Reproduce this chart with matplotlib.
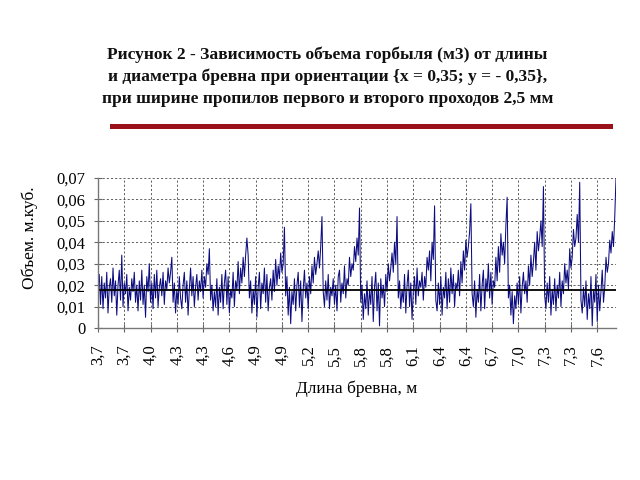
import matplotlib
matplotlib.use("Agg")
import matplotlib.pyplot as plt
from matplotlib.lines import Line2D

plt.rcParams['font.family'] = ['Liberation Serif', 'DejaVu Serif']

# объем горбыля по точкам: 14 блоков по длине бревна, внутри блока растет диаметр
volume = [
    # 3,7
    0.018, 0.025, 0.011, 0.024, 0.009, 0.021, 0.014, 0.026, 0.007, 0.019,
    0.023, 0.012, 0.028, 0.015, 0.022, 0.006, 0.020, 0.027, 0.013, 0.034,
    0.010, 0.021, 0.016, 0.025, 0.008, 0.019, 0.013, 0.023, 0.017, 0.026,
    # 4,0
    0.012, 0.020, 0.008, 0.022, 0.013, 0.027, 0.011, 0.020, 0.005, 0.024,
    0.017, 0.030, 0.012, 0.021, 0.009, 0.025, 0.014, 0.027, 0.010, 0.019,
    0.023, 0.015, 0.026, 0.011, 0.022, 0.018, 0.028, 0.021, 0.026, 0.033,
    # 4,3
    0.012, 0.021, 0.007, 0.018, 0.011, 0.024, 0.014, 0.009, 0.020, 0.026,
    0.012, 0.022, 0.006, 0.018, 0.028, 0.015, 0.024, 0.010, 0.019, 0.025,
    0.013, 0.022, 0.017, 0.027, 0.014, 0.024, 0.019, 0.030, 0.025, 0.037,
    # 4,6
    0.013, 0.020, 0.008, 0.017, 0.010, 0.023, 0.006, 0.019, 0.012, 0.025,
    0.009, 0.021, 0.027, 0.011, 0.024, 0.007, 0.018, 0.014, 0.026, 0.010,
    0.022, 0.018, 0.031, 0.016, 0.028, 0.021, 0.033, 0.024, 0.034, 0.042,
    # 4,9
    0.034, 0.014, 0.022, 0.007, 0.018, 0.011, 0.024, 0.005, 0.019, 0.026,
    0.009, 0.021, 0.016, 0.028, 0.012, 0.025, 0.008, 0.019, 0.023, 0.013,
    0.027, 0.017, 0.032, 0.020, 0.029, 0.023, 0.035, 0.026, 0.030, 0.047,
    # 5,2
    0.015, 0.024, 0.006, 0.019, 0.002, 0.017, 0.011, 0.023, 0.008, 0.020,
    0.026, 0.010, 0.022, 0.003, 0.018, 0.027, 0.014, 0.021, 0.009, 0.024,
    0.016, 0.029, 0.021, 0.033, 0.025, 0.030, 0.036, 0.028, 0.038, 0.052,
    # 5,5
    0.017, 0.010, 0.022, 0.013, 0.025, 0.009, 0.019, 0.015, 0.023, 0.011,
    0.020, 0.008, 0.024, 0.027, 0.012, 0.021, 0.016, 0.029, 0.014, 0.023,
    0.020, 0.033, 0.024, 0.030, 0.027, 0.038, 0.031, 0.042, 0.034, 0.056,
    # 5,8
    0.012, 0.020, 0.004, 0.016, 0.009, 0.022, 0.006, 0.018, 0.011, 0.024,
    0.003, 0.019, 0.026, 0.008, 0.021, 0.001, 0.023, 0.014, 0.020, 0.010,
    0.025, 0.017, 0.030, 0.022, 0.028, 0.035, 0.026, 0.040, 0.030, 0.052,
    # 6,1
    0.014, 0.022, 0.009, 0.018, 0.012, 0.025, 0.007, 0.020, 0.027, 0.010,
    0.021, 0.004, 0.017, 0.024, 0.011, 0.028, 0.015, 0.022, 0.019, 0.026,
    0.013, 0.024, 0.019, 0.033, 0.027, 0.036, 0.022, 0.040, 0.032, 0.057,
    # 6,4
    0.013, 0.008, 0.021, 0.011, 0.024, 0.006, 0.019, 0.014, 0.026, 0.009,
    0.023, 0.012, 0.028, 0.016, 0.025, 0.010, 0.021, 0.018, 0.027, 0.015,
    0.031, 0.021, 0.036, 0.027, 0.041, 0.033, 0.038, 0.045, 0.058,
    # 6,7
    0.016, 0.010, 0.022, 0.005, 0.018, 0.012, 0.025, 0.008, 0.020, 0.027,
    0.009, 0.023, 0.017, 0.030, 0.014, 0.026, 0.011, 0.022, 0.019, 0.033,
    0.022, 0.038, 0.026, 0.044, 0.034, 0.040, 0.030, 0.048, 0.061,
    # 7,0
    0.014, 0.020, 0.006, 0.017, 0.002, 0.015, 0.009, 0.021, 0.011, 0.024,
    0.007, 0.019, 0.026, 0.016, 0.022, 0.012, 0.029, 0.020, 0.034, 0.024,
    0.031, 0.040, 0.027, 0.045, 0.036, 0.042, 0.050, 0.038, 0.066,
    # 7,3
    0.015, 0.009, 0.021, 0.012, 0.024, 0.006, 0.018, 0.011, 0.023, 0.008,
    0.020, 0.014, 0.026, 0.010, 0.022, 0.016, 0.030, 0.021, 0.027, 0.018,
    0.037, 0.028, 0.033, 0.046, 0.038, 0.042, 0.053, 0.040, 0.068,
    # 7,6
    0.013, 0.007, 0.019, 0.010, 0.022, 0.004, 0.016, 0.009, 0.024, 0.001,
    0.018, 0.012, 0.025, 0.003, 0.020, 0.008, 0.017, 0.027, 0.012, 0.019,
    0.033, 0.026, 0.030, 0.041, 0.035, 0.045, 0.038, 0.052, 0.070,
]
mean_level = 0.0177
tick_step = 21
tick_labels = ['3,7', '3,7', '4,0', '4,3', '4,3', '4,6', '4,9', '4,9', '5,2', '5,5',
               '5,8', '5,8', '6,1', '6,4', '6,4', '6,7', '7,0', '7,3', '7,3', '7,6']
y_ticks = [0, 0.01, 0.02, 0.03, 0.04, 0.05, 0.06, 0.07]
y_tick_labels = ['0', '0,01', '0,02', '0,03', '0,04', '0,05', '0,06', '0,07']

title_lines = [
    'Рисунок 2 - Зависимость объема горбыля (м3) от длины',
    'и диаметра бревна при ориентации {x = 0,35; y = - 0,35},',
    'при ширине пропилов первого и второго проходов 2,5 мм',
]

fig = plt.figure(figsize=(6.4, 4.8), dpi=100)
for i, line in enumerate(title_lines):
    fig.text(0.512, 1 - (55 + 22 * i) / 480, line, ha='center', va='center',
             fontsize=12.6, fontweight='bold', color='#111111')

# красная полоса под заголовком
fig.add_artist(Line2D([0.175, 0.953], [0.7375, 0.7375], color='#9a111a',
                      linewidth=3.6, transform=fig.transFigure))

ax = fig.add_axes([98 / 640, 152 / 480, 518 / 640, 150 / 480])
x = list(range(len(volume)))
ax.plot(x, volume, color='#0c0c80', linewidth=0.75)
ax.axhline(mean_level, color='black', linewidth=1.3)

ax.set_xlim(0, len(volume) - 1)
ax.set_ylim(0, 0.07)
ax.set_xticks(x[::tick_step][:len(tick_labels)])
ax.set_xticklabels(tick_labels, rotation=90, fontsize=12)
ax.set_yticks(y_ticks)
ax.set_yticklabels(y_tick_labels, fontsize=12)
ax.tick_params(direction='inout', length=6, width=0.8, color='#666666')
ax.tick_params(axis='x', pad=9)
ax.tick_params(axis='y', pad=6)

ax.grid(True, linestyle=(0, (2.5, 2.5)), color='#444444', linewidth=0.6)
ax.set_axisbelow(True)
for side in ['top', 'right']:
    ax.spines[side].set_visible(False)
for side in ['left', 'bottom']:
    ax.spines[side].set_color('#777777')
    ax.spines[side].set_linewidth(1.0)

ax.set_xlabel('Длина бревна, м', fontsize=12.5, labelpad=11)
ax.set_ylabel('Объем. м.куб.', fontsize=12.5)
ax.yaxis.set_label_coords(-0.116, 0.6)

plt.savefig('out.png', dpi=100)
